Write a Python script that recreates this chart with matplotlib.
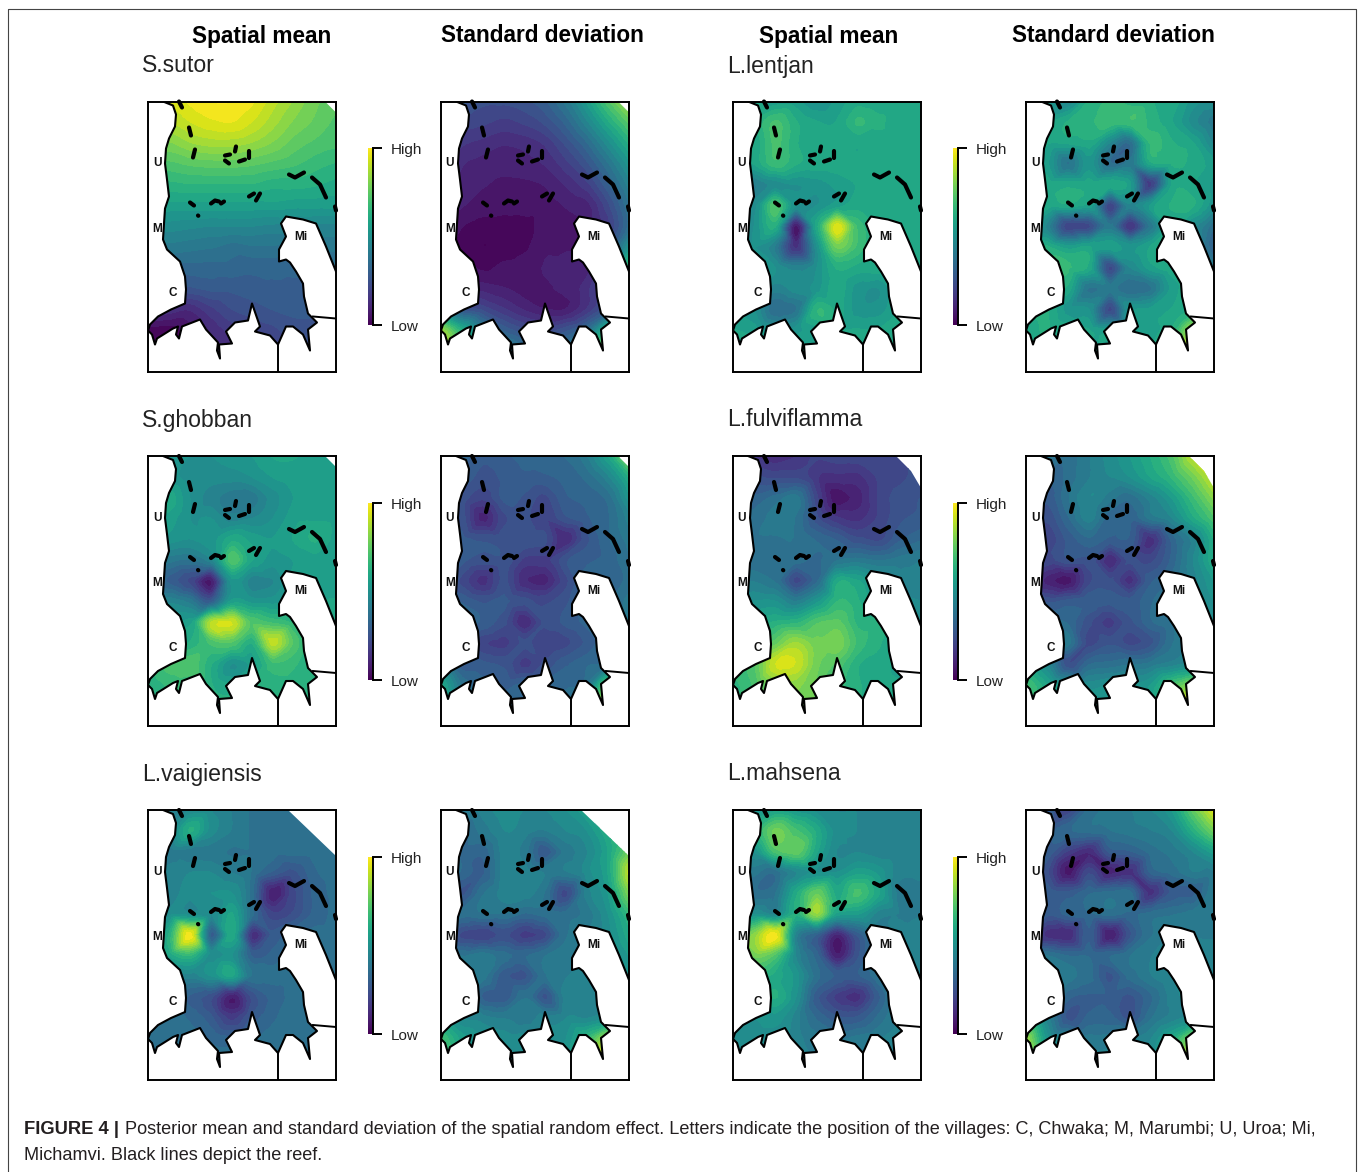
import numpy as np
import matplotlib
matplotlib.use("Agg")
import matplotlib.pyplot as plt
import matplotlib.tri as mtri
from matplotlib.colors import Normalize
from matplotlib.lines import Line2D
from matplotlib.patches import Polygon

plt.rcParams['font.family'] = ['Liberation Sans', 'DejaVu Sans']

W, H = 1358, 1172

# grid nodes of the maps, in panel pixels (x right, y down)
grid_x = [0, 21, 42, 63, 84, 104, 125, 146, 167, 188]
grid_y = [0, 21, 42, 62, 83, 104, 125, 145, 166, 187, 208, 229, 249, 270]

# values, 0 = Low, 100 = High
sutor_mean = [
    [90, 92, 97, 100, 100, 97, 90, 84, 78, 74],
    [88, 88, 92, 95, 96, 92, 86, 80, 76, 72],
    [80, 80, 84, 86, 86, 84, 80, 75, 72, 70],
    [72, 72, 74, 75, 75, 74, 72, 70, 67, 65],
    [64, 64, 65, 65, 65, 65, 63, 63, 62, 60],
    [56, 56, 56, 56, 56, 56, 56, 55, 55, 55],
    [48, 48, 47, 46, 46, 46, 45, 45, 45, 45],
    [41, 41, 40, 39, 37, 38, 38, 38, 40, 40],
    [33, 33, 33, 33, 33, 32, 32, 32, 34, 34],
    [24, 24, 26, 28, 28, 29, 30, 30, 30, 30],
    [20, 14, 12, 18, 23, 25, 27, 28, 28, 28],
    [2, 2, 6, 12, 17, 20, 22, 25, 25, 25],
    [2, 2, 5, 10, 14, 18, 20, 22, 24, 24],
    [2, 2, 5, 10, 14, 18, 20, 22, 24, 24],
]
sutor_sd = [
    [30, 28, 24, 24, 26, 30, 40, 55, 72, 88],
    [24, 22, 20, 18, 20, 24, 32, 45, 60, 74],
    [20, 16, 14, 12, 13, 16, 24, 34, 48, 62],
    [18, 12, 10, 9, 10, 12, 18, 26, 38, 52],
    [14, 10, 8, 7, 7, 8, 12, 18, 30, 44],
    [10, 8, 6, 6, 6, 6, 8, 10, 22, 38],
    [8, 4, 2, 1, 2, 6, 7, 9, 18, 36],
    [8, 2, 0, 1, 3, 7, 7, 9, 24, 50],
    [10, 7, 3, 5, 6, 8, 10, 10, 30, 65],
    [14, 12, 10, 8, 6, 7, 9, 14, 26, 40],
    [30, 26, 22, 16, 11, 8, 8, 16, 28, 40],
    [85, 62, 42, 30, 24, 22, 26, 36, 64, 60],
    [85, 70, 55, 45, 38, 35, 40, 58, 85, 70],
    [90, 70, 60, 50, 44, 40, 45, 50, 75, 80],
]
lentjan_mean = [
    [60, 58, 55, 55, 50, 55, 60, 60, 60, 60],
    [60, 62, 70, 62, 58, 58, 66, 62, 60, 60],
    [58, 58, 70, 62, 58, 58, 58, 60, 60, 60],
    [55, 58, 68, 62, 60, 60, 58, 60, 60, 60],
    [45, 42, 48, 50, 52, 55, 58, 60, 60, 60],
    [50, 48, 72, 50, 50, 56, 60, 60, 60, 60],
    [50, 50, 62, 6, 60, 95, 68, 60, 60, 60],
    [50, 50, 42, 14, 50, 78, 68, 60, 60, 60],
    [52, 52, 50, 44, 50, 62, 60, 60, 60, 60],
    [52, 52, 44, 48, 52, 60, 52, 50, 58, 60],
    [52, 50, 35, 38, 65, 60, 52, 52, 58, 60],
    [58, 56, 50, 52, 56, 58, 58, 58, 60, 60],
    [58, 58, 58, 58, 58, 58, 58, 58, 58, 58],
    [58, 58, 58, 58, 58, 58, 58, 58, 58, 58],
]
lentjan_sd = [
    [60, 55, 45, 62, 66, 64, 62, 60, 52, 50],
    [60, 58, 62, 64, 68, 68, 64, 58, 48, 40],
    [60, 58, 58, 60, 45, 35, 66, 62, 58, 45],
    [60, 55, 38, 52, 35, 40, 60, 62, 60, 55],
    [60, 60, 60, 60, 60, 55, 18, 58, 58, 52],
    [60, 60, 60, 56, 20, 45, 55, 62, 62, 50],
    [60, 45, 20, 22, 40, 15, 40, 58, 48, 35],
    [62, 62, 55, 58, 56, 52, 58, 60, 48, 30],
    [62, 66, 66, 60, 22, 46, 56, 60, 50, 42],
    [62, 62, 60, 38, 40, 35, 38, 55, 60, 60],
    [62, 62, 52, 50, 22, 52, 55, 58, 62, 62],
    [60, 62, 60, 58, 56, 54, 56, 62, 85, 70],
    [65, 60, 60, 56, 54, 54, 58, 64, 95, 70],
    [65, 60, 60, 56, 54, 54, 60, 65, 90, 70],
]
ghobban_mean = [
    [55, 52, 50, 50, 52, 54, 58, 58, 56, 54],
    [55, 52, 48, 48, 48, 50, 54, 56, 56, 55],
    [58, 60, 50, 44, 40, 40, 48, 54, 56, 55],
    [58, 56, 50, 50, 44, 46, 50, 56, 57, 56],
    [52, 52, 50, 52, 60, 56, 54, 58, 62, 56],
    [40, 40, 38, 45, 72, 58, 52, 54, 56, 55],
    [35, 30, 22, 7, 52, 44, 46, 55, 55, 55],
    [45, 45, 40, 28, 55, 52, 52, 56, 58, 58],
    [50, 52, 56, 88, 92, 72, 68, 64, 60, 60],
    [56, 58, 62, 70, 72, 62, 90, 72, 62, 60],
    [65, 70, 72, 62, 50, 55, 68, 66, 62, 62],
    [62, 66, 66, 62, 58, 62, 64, 64, 64, 64],
    [64, 64, 64, 64, 64, 64, 64, 64, 64, 64],
    [64, 64, 64, 64, 64, 64, 64, 64, 64, 64],
]
ghobban_sd = [
    [30, 32, 28, 30, 32, 34, 35, 42, 58, 85],
    [30, 30, 25, 28, 30, 30, 32, 36, 45, 62],
    [28, 25, 20, 28, 26, 22, 30, 32, 36, 52],
    [28, 25, 10, 22, 24, 20, 26, 30, 34, 44],
    [28, 28, 26, 26, 26, 24, 12, 26, 34, 40],
    [30, 28, 25, 26, 18, 18, 26, 30, 32, 38],
    [32, 22, 14, 24, 12, 10, 22, 32, 32, 36],
    [32, 30, 26, 28, 24, 22, 26, 32, 34, 40],
    [34, 34, 30, 24, 12, 24, 28, 32, 34, 40],
    [34, 26, 20, 18, 24, 20, 22, 28, 34, 36],
    [34, 28, 28, 26, 18, 24, 30, 34, 36, 40],
    [60, 38, 32, 30, 32, 32, 34, 38, 75, 60],
    [60, 40, 36, 32, 34, 34, 36, 45, 95, 60],
    [60, 40, 36, 34, 34, 34, 38, 50, 90, 60],
]
fulvi_mean = [
    [15, 15, 12, 15, 20, 22, 22, 22, 22, 22],
    [25, 24, 22, 22, 16, 14, 14, 20, 22, 25],
    [32, 32, 36, 40, 20, 5, 10, 20, 25, 27],
    [35, 36, 40, 38, 24, 16, 14, 20, 26, 28],
    [38, 38, 38, 38, 34, 30, 24, 22, 30, 34],
    [38, 36, 36, 36, 34, 38, 40, 38, 40, 42],
    [42, 42, 38, 22, 34, 60, 58, 50, 44, 44],
    [48, 50, 50, 42, 52, 65, 62, 55, 48, 46],
    [56, 58, 62, 64, 72, 74, 64, 62, 54, 50],
    [62, 65, 75, 85, 78, 80, 68, 62, 58, 54],
    [72, 72, 92, 92, 78, 72, 62, 60, 56, 56],
    [64, 70, 80, 82, 76, 68, 62, 60, 58, 56],
    [66, 70, 78, 80, 76, 66, 62, 60, 58, 56],
    [66, 70, 78, 80, 76, 66, 62, 60, 58, 56],
]
fulvi_sd = [
    [42, 40, 36, 42, 48, 54, 62, 72, 90, 98],
    [38, 32, 36, 42, 46, 50, 58, 66, 78, 92],
    [32, 28, 38, 46, 40, 36, 44, 54, 68, 82],
    [30, 24, 34, 44, 32, 32, 40, 46, 60, 72],
    [28, 20, 28, 34, 30, 30, 14, 32, 44, 62],
    [24, 22, 26, 26, 12, 24, 22, 32, 46, 62],
    [22, 10, 6, 22, 24, 14, 30, 36, 44, 54],
    [30, 26, 28, 30, 28, 28, 34, 38, 44, 50],
    [38, 36, 34, 24, 18, 26, 34, 38, 44, 48],
    [44, 44, 40, 22, 26, 22, 26, 38, 44, 46],
    [46, 46, 24, 34, 36, 38, 40, 44, 48, 50],
    [70, 58, 52, 48, 50, 50, 54, 70, 80, 70],
    [70, 60, 56, 52, 52, 52, 58, 80, 95, 70],
    [70, 60, 56, 52, 52, 52, 58, 80, 95, 70],
]
vaig_mean = [
    [42, 42, 46, 46, 42, 38, 38, 38, 36, 36],
    [42, 44, 62, 48, 42, 38, 38, 38, 36, 36],
    [38, 40, 40, 40, 38, 38, 36, 36, 36, 36],
    [40, 44, 46, 46, 42, 38, 30, 26, 34, 36],
    [42, 44, 48, 50, 50, 36, 8, 22, 32, 36],
    [44, 48, 48, 46, 58, 36, 20, 24, 32, 36],
    [50, 62, 98, 30, 60, 14, 28, 34, 36, 36],
    [50, 58, 66, 48, 50, 30, 32, 36, 36, 36],
    [42, 40, 44, 50, 58, 38, 36, 36, 36, 36],
    [36, 36, 30, 24, 8, 24, 32, 36, 36, 36],
    [36, 36, 34, 28, 18, 28, 34, 36, 36, 36],
    [36, 36, 36, 34, 32, 34, 36, 36, 36, 36],
    [36, 36, 36, 36, 36, 36, 36, 36, 36, 36],
    [36, 36, 36, 36, 36, 36, 36, 36, 36, 36],
]
vaig_sd = [
    [42, 40, 44, 48, 46, 46, 50, 58, 72, 90],
    [42, 34, 40, 46, 44, 42, 46, 50, 62, 76],
    [40, 34, 32, 44, 40, 28, 40, 46, 58, 78],
    [40, 34, 30, 44, 44, 42, 42, 48, 58, 90],
    [36, 26, 38, 44, 44, 38, 22, 44, 54, 80],
    [34, 36, 38, 38, 34, 36, 36, 40, 50, 66],
    [36, 22, 20, 24, 18, 22, 38, 42, 48, 60],
    [40, 38, 40, 36, 34, 38, 40, 42, 46, 54],
    [42, 44, 40, 28, 26, 38, 42, 44, 46, 50],
    [42, 46, 30, 28, 38, 26, 44, 44, 46, 50],
    [46, 46, 44, 42, 40, 44, 46, 46, 50, 52],
    [70, 56, 50, 48, 48, 48, 50, 66, 85, 70],
    [70, 58, 52, 50, 50, 50, 52, 70, 98, 70],
    [70, 58, 52, 50, 50, 50, 52, 70, 98, 70],
]
mahsena_mean = [
    [50, 50, 56, 52, 48, 46, 46, 44, 44, 44],
    [50, 62, 78, 70, 60, 48, 46, 44, 44, 44],
    [48, 50, 70, 75, 58, 46, 46, 44, 44, 44],
    [42, 40, 36, 46, 50, 50, 56, 52, 44, 44],
    [40, 36, 38, 60, 76, 60, 70, 58, 40, 40],
    [52, 50, 46, 62, 84, 56, 54, 44, 42, 42],
    [72, 82, 98, 44, 30, 10, 28, 40, 44, 44],
    [68, 78, 72, 46, 32, 8, 26, 38, 44, 44],
    [58, 60, 60, 52, 36, 30, 30, 38, 44, 44],
    [50, 54, 62, 50, 28, 18, 14, 30, 42, 44],
    [50, 50, 52, 44, 34, 28, 28, 36, 42, 44],
    [48, 48, 48, 44, 40, 38, 40, 42, 44, 44],
    [48, 48, 48, 44, 42, 42, 42, 44, 44, 44],
    [48, 48, 48, 44, 42, 42, 42, 44, 44, 44],
]
mahsena_sd = [
    [30, 30, 20, 36, 40, 42, 46, 54, 75, 95],
    [32, 30, 34, 36, 38, 40, 42, 46, 62, 78],
    [34, 30, 18, 12, 28, 30, 36, 40, 46, 56],
    [32, 24, 6, 22, 10, 14, 32, 36, 42, 42],
    [34, 30, 28, 34, 36, 36, 14, 28, 30, 42],
    [32, 28, 32, 34, 36, 34, 36, 38, 40, 42],
    [32, 14, 12, 30, 8, 26, 38, 42, 42, 42],
    [38, 38, 34, 34, 34, 38, 42, 44, 44, 44],
    [44, 44, 40, 36, 26, 36, 42, 46, 46, 46],
    [44, 46, 32, 30, 30, 26, 34, 44, 48, 48],
    [46, 44, 26, 32, 32, 26, 38, 44, 48, 48],
    [85, 52, 44, 40, 40, 42, 46, 60, 80, 70],
    [75, 56, 50, 44, 44, 44, 48, 70, 92, 70],
    [75, 56, 50, 44, 44, 44, 48, 70, 92, 70],
]

# coast of the bay, clockwise from the north end
coast = [(15, 0), (25, 4), (28, 13), (27, 25), (21, 37), (18, 47), (17, 62), (19, 78),
         (21, 95), (17, 107), (16, 122), (15, 138), (19, 148), (32, 160), (37, 175),
         (38, 188), (37, 202), (23, 208), (10, 215), (2, 223), (0, 229), (4, 233),
         (7, 243), (9, 237), (25, 227), (30, 225), (28, 233), (31, 237),
         (34, 225), (52, 218), (58, 228), (70, 241), (69, 249), (72, 257),
         (71, 243), (84, 242), (78, 230), (87, 221), (100, 219), (104, 202), (112, 225),
         (107, 230), (122, 234), (130, 243), (138, 225), (145, 225),
         (155, 233), (162, 249), (160, 228), (169, 221), (160, 212), (156, 195),
         (155, 182), (148, 170), (142, 161), (138, 158), (131, 160), (131, 148),
         (138, 135), (133, 122), (138, 115), (155, 118), (168, 122), (178, 145), (188, 170)]
land_lines = [[(165, 215), (188, 217)], [(130, 243), (130, 270)]]
reef = [[(31, 0), (34, 6)], [(41, 26), (43, 34)], [(47, 48), (45, 56)], [(77, 54), (82, 53)],
        [(88, 45), (87, 50)], [(101, 49), (101, 56)], [(77, 59), (81, 62)], [(91, 60), (97, 58)],
        [(141, 73), (147, 76), (156, 71)], [(164, 76), (172, 83), (178, 96)],
        [(187, 105), (188, 109)], [(101, 95), (106, 92)], [(108, 99), (112, 92)],
        [(42, 101), (46, 104)], [(63, 102), (67, 99), (71, 100)], [(73, 102), (76, 100)],
        [(50, 114), (50.3, 114.3)]]
villages = ['U', 'M', 'C', 'Mi']
village_x = [9, 9, 25, 153]
village_y = [62, 127, 192, 135]

# corners of the map without any prediction
cut_small = [(188, 11), (177, 0)]
cut_fulvi = [(188, 32), (178, 15), (163, 0)]
cut_vaig = [(188, 46), (140, 0)]
cut_none = [(188, 0)]

panel_x = [148, 441, 733, 1026]
panel_y = [101.5, 456, 810]
panel_w, panel_h = 188, 270
cbar_x = [368, 953]
cbar_y = [148, 503, 857]
names = [['S.sutor', 'L.lentjan'], ['S.ghobban', 'L.fulviflamma'], ['L.vaigiensis', 'L.mahsena']]
name_x = [142, 727]
name_y = [66, 420, 774]
header_x = [262, 542, 829, 1113]
headers = ['Spatial mean', 'Standard deviation', 'Spatial mean', 'Standard deviation']

panels = [
    [sutor_mean, sutor_sd, lentjan_mean, lentjan_sd],
    [ghobban_mean, ghobban_sd, fulvi_mean, fulvi_sd],
    [vaig_mean, vaig_sd, mahsena_mean, mahsena_sd],
]
cuts = [
    [cut_small, cut_small, cut_none, cut_none],
    [cut_small, cut_small, cut_fulvi, cut_fulvi],
    [cut_vaig, cut_vaig, cut_none, cut_none],
]

levels = np.linspace(0, 100, 27)
norm = Normalize(0, 100)
cbar_ramp = np.linspace(100, 0, 256).reshape(-1, 1)

gx, gy = np.meshgrid(grid_x, grid_y)
mesh = mtri.Triangulation(gx.ravel().astype(float), gy.ravel().astype(float))
refiner = mtri.UniformTriRefiner(mesh)


def px_axes(x, y, w, h):
    return fig.add_axes([x / W, 1 - (y + h) / H, w / W, h / H])


def draw_map(x, y, values, cut):
    ax = px_axes(x, y, panel_w, panel_h)
    z = np.array(values, dtype=float).ravel()
    fine, fine_z = refiner.refine_field(z, mtri.CubicTriInterpolator(mesh, z, kind='geom'), subdiv=3)
    cs = ax.tricontourf(fine, fine_z, levels=levels, cmap='viridis', norm=norm, extend='both')
    ax.set_xlim(0, 188)
    ax.set_ylim(270, 0)
    water = Polygon(coast + cut, closed=True, transform=ax.transData, fc='none', ec='none')
    ax.add_patch(water)
    cs.set_clip_path(water)
    cx, cy = zip(*coast)
    ax.plot(cx, cy, color='black', lw=1.5, solid_joinstyle='round')
    for line in land_lines:
        lx, ly = zip(*line)
        ax.plot(lx, ly, color='black', lw=1.4)
    for seg in reef:
        sx, sy = zip(*seg)
        ax.plot(sx, sy, color='black', lw=3, solid_capstyle='round', clip_on=False)
    for v, vx, vy in zip(villages, village_x, village_y):
        ax.text(vx, vy, v, ha='center', va='center', fontsize=8.5, fontweight='bold', color='#111111')
    ax.set_xticks([])
    ax.set_yticks([])
    for s in ax.spines.values():
        s.set_linewidth(1.4)


def draw_cbar(x, y):
    cax = px_axes(x, y, 5, 177)
    cax.imshow(cbar_ramp, cmap='viridis', norm=norm, aspect='auto', extent=(0, 1, 0, 100))
    for name, s in cax.spines.items():
        s.set_visible(name == 'right')
    cax.spines['right'].set_linewidth(1.4)
    cax.set_xticks([])
    cax.yaxis.tick_right()
    cax.set_yticks([0, 100], ['', ''])
    cax.tick_params(length=6.5, width=1.4)
    cax.annotate('High', (1, 1), xycoords='axes fraction', xytext=(18, -2), textcoords='offset pixels',
                 fontsize=11, va='center', color='#222222')
    cax.annotate('Low', (1, 0), xycoords='axes fraction', xytext=(18, -2), textcoords='offset pixels',
                 fontsize=11, va='center', color='#222222')


fig = plt.figure(figsize=(W / 100, H / 100), dpi=100)

for r in range(3):
    for c in range(4):
        draw_map(panel_x[c], panel_y[r], panels[r][c], cuts[r][c])
    for i in range(2):
        draw_cbar(cbar_x[i], cbar_y[r])
        fig.text(name_x[i] / W, 1 - name_y[r] / H, names[r][i], fontsize=16.6, va='center', color='#222222')

for hx, label in zip(header_x, headers):
    fig.text(hx / W, 1 - 36 / H, label, fontsize=16.3, fontweight='bold', ha='center', va='center')

# caption and page frame
fig.text(24 / W, 1 - 1130 / H, 'FIGURE 4 |', fontsize=13.2, fontweight='bold', va='center', color='#231f20')
fig.text(125 / W, 1 - 1130 / H,
         'Posterior mean and standard deviation of the spatial random effect. Letters indicate '
         'the position of the villages: C, Chwaka; M, Marumbi; U, Uroa; Mi,',
         fontsize=13.07, va='center', color='#231f20')
fig.text(24 / W, 1 - 1155 / H, 'Michamvi. Black lines depict the reef.',
         fontsize=13.07, va='center', color='#231f20')
fig.add_artist(Line2D([7.5 / W, 7.5 / W, 1355.5 / W, 1355.5 / W], [0, 1 - 8.5 / H, 1 - 8.5 / H, 0],
                      color='#444444', lw=0.8))

fig.savefig('out.png', dpi=100)
